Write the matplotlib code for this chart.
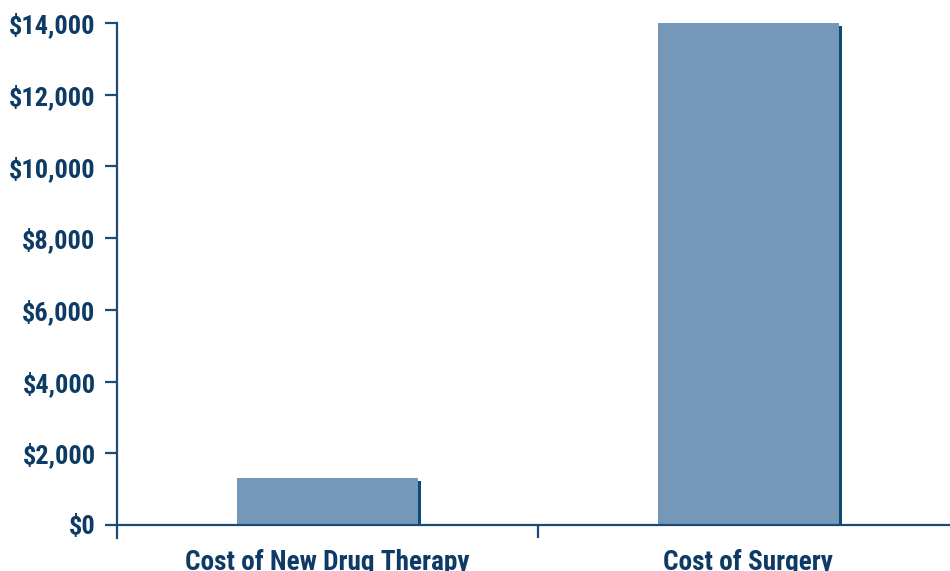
import matplotlib.pyplot as plt
from matplotlib.ticker import FixedLocator, FuncFormatter

# Data
categories = ['Cost of New Drug Therapy', 'Cost of Surgery']
costs = [1300, 14000]
y_ticks = [0, 2000, 4000, 6000, 8000, 10000, 12000, 14000]

bar_color = '#7597b8'
shadow_color = '#0c4a78'
axis_color = '#1b4a72'
text_color = '#0d3b66'

# condensed bold, close to the Univers Condensed of the original
plt.rcParams['font.family'] = ['Roboto Condensed', 'Archivo Narrow', 'DejaVu Sans']
plt.rcParams['font.weight'] = 'bold'

fig = plt.figure(figsize=(9.5, 5.71), dpi=100)
ax = fig.add_axes([0.1232, 0.0578, 0.886, 0.9019])

x = list(range(len(categories)))
# dark shadow a few pixels to the right / below, then the bar itself
ax.bar([v + 0.008 for v in x], [c - 80 for c in costs], width=0.43,
       color=shadow_color, zorder=2)
ax.bar(x, costs, width=0.43, color=bar_color, zorder=3)

ax.set_xlim(-0.5, 1.5)
ax.set_ylim(-363, 14000)

for s in ['top', 'right']:
    ax.spines[s].set_visible(False)
ax.spines['bottom'].set_position(('data', 0))
ax.spines['bottom'].set_zorder(4)
for s in ['left', 'bottom']:
    ax.spines[s].set_color(axis_color)
    ax.spines[s].set_linewidth(1.6)

ax.yaxis.set_major_locator(FixedLocator(y_ticks))
ax.yaxis.set_major_formatter(FuncFormatter(lambda v, p: f'${v:,.0f}'))
ax.tick_params(axis='y', length=8.5, width=1.6, color=axis_color,
               labelsize=19, labelcolor=text_color, pad=7)

ax.set_xticks(x)
ax.set_xticklabels(categories)
ax.set_xticks([0.5], minor=True)
ax.tick_params(axis='x', which='major', length=0, labelsize=19.6,
               labelcolor=text_color, pad=17)
ax.tick_params(axis='x', which='minor', length=9, width=1.6, color=axis_color)

for lbl in ax.get_xticklabels() + ax.get_yticklabels():
    lbl.set_fontweight('bold')

plt.savefig('out.png', dpi=100)
